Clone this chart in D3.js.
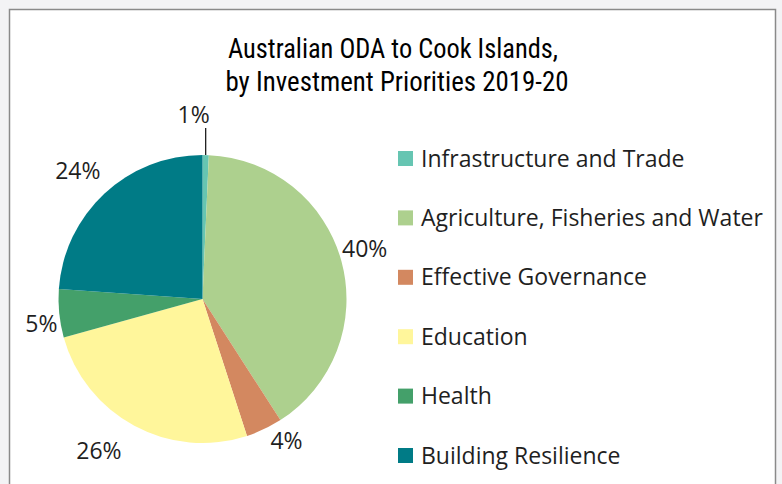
<!DOCTYPE html>
<html>
<head>
<meta charset="utf-8">
<script src="https://cdn.jsdelivr.net/npm/d3@7"></script>
<style>
  html, body { margin: 0; padding: 0; background: #f3f3f5; }
  svg { display: block; }
  .title { font-family: "Liberation Sans Narrow", "Roboto Condensed", "Open Sans", sans-serif; font-size: 28px; fill: #000; }
  .lbl, .leg { font-family: "Open Sans", "Noto Sans", sans-serif; fill: #1f1f1f; }
</style>
</head>
<body>
<div id="chart"></div>
<script>
// categories and their share (percent)
var categories = ["Infrastructure and Trade", "Agriculture, Fisheries and Water", "Effective Governance",
                  "Education", "Health", "Building Resilience"];
var shares = [0.7, 40.2, 4.1, 25.7, 5.4, 23.9];
var colours = ["#66c5b2", "#add08e", "#d38860", "#fff69b", "#44a06a", "#007b86"];
var titleLines = ["Australian ODA to Cook Islands,", "by Investment Priorities 2019-20"];

// layout
var w = 782, h = 484;
var cx = 202.5, cy = 299, r = 144;
var labelR = 168;
// hand nudges so labels sit where excel put them
var nudge = [[0, 0], [0, -6], [12, -10], [-24, 4], [6, 8], [-10, -5]];

var svg = d3.select("#chart").append("svg")
  .attr("width", w)
  .attr("height", h);

// chart frame
svg.append("rect")
  .attr("x", 9.5).attr("y", 9.5)
  .attr("width", 766).attr("height", h + 20)
  .attr("fill", "#fff")
  .attr("stroke", "#8a8a8a")
  .attr("stroke-width", 1.5);

// title
var titleX = [393, 397], titleY = [58, 91], titleW = [330, 343];
titleLines.forEach(function(t, i) {
  svg.append("text")
    .attr("class", "title")
    .attr("x", titleX[i]).attr("y", titleY[i])
    .attr("text-anchor", "middle")
    .attr("textLength", titleW[i])
    .attr("lengthAdjust", "spacingAndGlyphs")
    .text(t);
});

var pie = d3.pie().sort(null).value(function(d) { return d; });
var arcs = pie(shares);
var arc = d3.arc().innerRadius(0).outerRadius(r);
var labelArc = d3.arc().innerRadius(labelR).outerRadius(labelR);

var g = svg.append("g").attr("transform", "translate(" + cx + "," + cy + ")");

g.selectAll("path")
  .data(arcs)
  .enter().append("path")
  .attr("d", arc)
  .attr("fill", function(d, i) { return colours[i]; });

// data labels, the tiny first slice gets a leader line and its label up top
arcs.forEach(function(d, i) {
  var txt = Math.round(d.data) + "%";
  var p;
  if (i === 0) {
    var a = (d.startAngle + d.endAngle) / 2;
    var x0 = Math.sin(a) * r;
    g.append("line")
      .attr("x1", x0).attr("y1", -Math.cos(a) * r)
      .attr("x2", x0).attr("y2", -r - 27)
      .attr("stroke", "#1f1f1f").attr("stroke-width", 1.3);
    p = [x0 - 12, -r - 40];
  } else {
    var c = labelArc.centroid(d);
    p = [c[0] + nudge[i][0], c[1] + nudge[i][1]];
  }
  g.append("text")
    .attr("class", "lbl")
    .attr("x", p[0]).attr("y", p[1] + 8)
    .attr("text-anchor", "middle")
    .style("font-size", "23px")
    .text(txt);
});

// legend
var legY = d3.scalePoint().domain(categories).range([151, 448]);
var leg = svg.selectAll(".legrow")
  .data(categories)
  .enter().append("g")
  .attr("class", "legrow")
  .attr("transform", function(d) { return "translate(398," + legY(d) + ")"; });

leg.append("rect")
  .attr("width", 15).attr("height", 15)
  .attr("fill", function(d, i) { return colours[i]; });

leg.append("text")
  .attr("class", "leg")
  .attr("x", 23).attr("y", 15.5)
  .style("font-size", "23px")
  .text(function(d) { return d; });
</script>
</body>
</html>
